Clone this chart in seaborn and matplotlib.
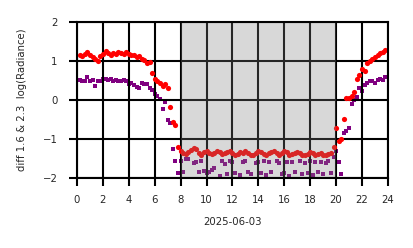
import numpy as np
import pandas as pd
import matplotlib
matplotlib.use("Agg")
import matplotlib.pyplot as plt
import seaborn as sns

# hours of observation (every 12 minutes)
hours = [round(0.2 * i, 1) for i in range(1, 120)]

red_vals = [
    # 0.2 - 5.0
    1.15, 1.12, 1.18, 1.22, 1.15, 1.10, 1.05, 1.00, 1.12, 1.18,
    1.25, 1.20, 1.15, 1.20, 1.18, 1.22, 1.20, 1.18, 1.22, 1.18,
    1.15, 1.15, 1.10, 1.12, 1.05,
    # 5.2 - 7.8
    1.02, 0.95, 0.98, 0.70, 0.55, 0.50, 0.45, 0.35, 0.40, 0.30,
    -0.18, -0.55, -0.65, -1.20,
    # 8.0 - 20.0
    -1.30, -1.35, -1.38, -1.32, -1.28, -1.22, -1.25, -1.35, -1.40, -1.32,
    -1.30, -1.36, -1.38, -1.35, -1.30, -1.33, -1.38, -1.36, -1.32, -1.30,
    -1.35, -1.40, -1.38, -1.33, -1.35, -1.30, -1.36, -1.40, -1.42, -1.35,
    -1.30, -1.33, -1.38, -1.40, -1.36, -1.32, -1.30, -1.36, -1.40, -1.35,
    -1.30, -1.34, -1.40, -1.38, -1.35, -1.32, -1.36, -1.40, -1.42, -1.38,
    -1.34, -1.36, -1.40, -1.38, -1.35, -1.40, -1.42, -1.38, -1.35, -1.20,
    -0.72,
    # 20.2 - 23.8
    -1.05, -1.00, -0.48, 0.05, 0.05, 0.10, 0.20, 0.55, 0.65, 0.80,
    0.75, 0.95, 1.00, 1.05, 1.10, 1.15, 1.20, 1.22, 1.28,
]

purple_vals = [
    # 0.2 - 5.0
    0.52, 0.50, 0.48, 0.60, 0.50, 0.52, 0.35, 0.50, 0.48, 0.55,
    0.55, 0.52, 0.55, 0.50, 0.52, 0.50, 0.48, 0.52, 0.50, 0.42,
    0.45, 0.38, 0.33, 0.30, 0.45,
    # 5.2 - 7.8
    0.42, 0.40, 0.30, 0.25, 0.15, 0.10, 0.02, -0.22, -0.05, -0.50,
    -0.58, -1.25, -1.55, -1.88,
    # 8.0 - 20.0
    -1.55, -1.85, -1.50, -1.52, -2.10, -1.62, -1.60, -1.85, -1.55, -1.82,
    -1.88, -1.85, -1.80, -1.75, -2.10, -1.95, -1.55, -1.65, -1.90, -1.55,
    -1.60, -1.88, -2.10, -1.92, -1.60, -1.55, -1.85, -1.90, -2.10, -1.62,
    -1.58, -1.88, -1.55, -1.92, -1.60, -1.85, -2.10, -1.55, -1.62, -1.90,
    -1.88, -1.58, -1.95, -1.60, -1.85, -2.10, -1.55, -1.90, -1.62, -1.88,
    -1.55, -1.92, -1.60, -1.85, -1.58, -1.90, -1.62, -1.55, -1.88, -1.45,
    -1.30,
    # 20.2 - 23.8
    -1.58, -1.90, -0.85, -0.80, -0.72, -0.10, 0.00, 0.08, 0.30, 0.22,
    0.38, 0.45, 0.48, 0.50, 0.45, 0.52, 0.55, 0.52, 0.58,
]

x_ticks = list(range(0, 25, 2))
y_ticks = [-2, -1, 0, 1, 2]
night_start, night_end = 8, 20

df = pd.DataFrame({"hour": hours, "red": red_vals, "purple": purple_vals})

sns.set_style("white")
plt.rcParams["font.family"] = ["DejaVu Sans"]

fig = plt.figure(figsize=(4.14, 2.48), dpi=100)
ax = fig.add_axes([0.186, 0.282, 0.751, 0.629])

sns.scatterplot(data=df, x="hour", y="purple", ax=ax, color="purple",
                marker="s", s=9, linewidth=0, zorder=2)
sns.scatterplot(data=df, x="hour", y="red", ax=ax, color="red",
                marker="o", s=14, linewidth=0, zorder=3)

ax.axvspan(night_start, night_end, color="gray", alpha=0.3, zorder=4, lw=0)

ax.set_xlim(0, 24)
ax.set_ylim(-2, 2)
ax.set_xticks(x_ticks)
ax.set_yticks(y_ticks)
ax.tick_params(labelsize=7.3, length=6, width=1.5, color="black", pad=6,
               left=True, bottom=True)
ax.tick_params(axis="y", pad=8)
ax.grid(True, color="black", linewidth=1.5, zorder=5)
ax.set_axisbelow(False)
for sp in ax.spines.values():
    sp.set_color("black")
    sp.set_linewidth(1.5)
    sp.set_zorder(6)

ax.set_xlabel("2025-06-03", fontsize=7.3, labelpad=9)
ax.set_ylabel("diff 1.6 & 2.3  log(Radiance)", fontsize=7.3, labelpad=11)

fig.savefig("out.png", dpi=100)
